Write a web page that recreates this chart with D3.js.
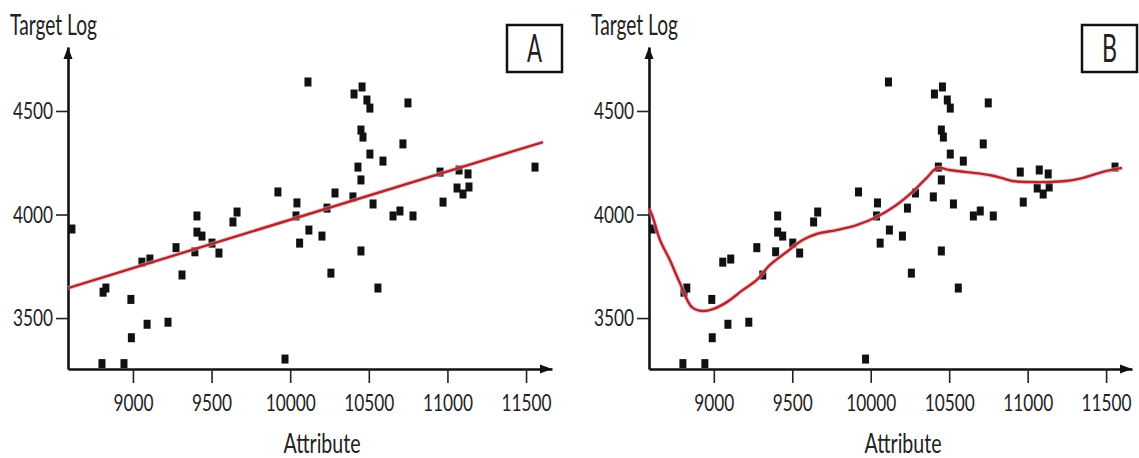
<!DOCTYPE html>
<html>
<head>
<meta charset="utf-8">
<script src="https://cdn.jsdelivr.net/npm/d3@7"></script>
<style>
  body { margin: 0; background: #fff; }
  svg { display: block; }
  text { font-family: Lato, "Open Sans", sans-serif; fill: #222; }
</style>
</head>
<body>
<svg id="chart" width="1139" height="458"></svg>
<script>
const xTicks = [9000, 9500, 10000, 10500, 11000, 11500];
const yTicks = [3500, 4000, 4500];

// scatter, same in both panels
const attribute = [8612, 8803, 8810, 8828, 8943, 8987, 8990, 9057, 9090, 9108,
  9223, 9274, 9312, 9394, 9407, 9407, 9439, 9503, 9547, 9636,
  9662, 9922, 9967, 10037, 10043, 10060, 10113, 10119, 10202, 10234,
  10259, 10285, 10399, 10406, 10431, 10450, 10450, 10450, 10457, 10463,
  10488, 10507, 10507, 10527, 10558, 10590, 10654, 10698, 10717, 10749,
  10781, 10953, 10972, 11061, 11074, 11099, 11131, 11137, 11557];
const targetLog = [3930, 3280, 3625, 3645, 3280, 3590, 3405, 3770, 3470, 3785,
  3480, 3840, 3708, 3820, 3993, 3915, 3896, 3862, 3814, 3964,
  4012, 4109, 3302, 3993, 4056, 3862, 4640, 3925, 3896, 4031,
  3717, 4104, 4085, 4582, 4229, 3824, 4167, 4408, 4616, 4374,
  4553, 4514, 4292, 4051, 3645, 4258, 3993, 4017, 4341, 4539,
  3993, 4205, 4060, 4128, 4215, 4099, 4196, 4133, 4229];

// A: straight fit
const fitX = [8587, 11608];
const fitY = [3645, 4350];

// B: smooth fit
const smoothX = [8587, 8610, 8657, 8720, 8784, 8860, 8930, 8994, 9083, 9184,
  9274, 9356, 9464, 9566, 9655, 9782, 9910, 10037, 10164, 10266,
  10355, 10425, 10501, 10609, 10756, 10838, 10902, 11010, 11137, 11245,
  11347, 11474, 11602];
const smoothY = [4030, 3990, 3877, 3780, 3669, 3553, 3534, 3543, 3577, 3635,
  3684, 3756, 3819, 3877, 3906, 3925, 3949, 3988, 4046, 4109,
  4176, 4225, 4215, 4205, 4191, 4176, 4162, 4157, 4157, 4162,
  4176, 4205, 4225];

const points = attribute.map((a, i) => ({x: a, y: targetLog[i]}));
const fitLine = fitX.map((x, i) => ({x, y: fitY[i]}));
const smoothLine = smoothX.map((x, i) => ({x, y: smoothY[i]}));

const panels = [
  {name: "A", left: 68, right: 552, box: 507, line: fitLine, curve: d3.curveLinear},
  {name: "B", left: 649, right: 1132, box: 1082, line: smoothLine, curve: d3.curveCatmullRom}
];

const yTop = 47, yBottom = 369;
const svg = d3.select("#chart");

const yScale = d3.scaleLinear([3254, 4809], [yBottom, yTop]);

panels.forEach(p => {
  const xScale = d3.scaleLinear([8587, 11665], [p.left, p.right]);
  const g = svg.append("g");

  const xAxis = d3.axisBottom(xScale).tickValues(xTicks)
    .tickFormat(d3.format("d")).tickSize(14).tickSizeOuter(0).tickPadding(11);
  const yAxis = d3.axisLeft(yScale).tickValues(yTicks)
    .tickFormat(d3.format("d")).tickSize(12).tickSizeOuter(0).tickPadding(3);

  const gx = g.append("g").attr("transform", `translate(0,${yBottom})`).call(xAxis);
  const gy = g.append("g").attr("transform", `translate(${p.left},0)`).call(yAxis);

  [gx, gy].forEach(ax => {
    ax.select(".domain").attr("stroke", "#111").attr("stroke-width", 2.6);
    ax.selectAll(".tick line").attr("stroke", "#222").attr("stroke-width", 1.6);
    ax.selectAll(".tick text")
      .attr("font-size", "24px")
      .attr("fill", "#222")
      .attr("textLength", d => String(d).length * 10)
      .attr("lengthAdjust", "spacingAndGlyphs");
  });

  // arrow heads
  g.append("path")
    .attr("d", `M${p.left},${yTop} L${p.left - 4.5},${yTop + 12} L${p.left + 4.5},${yTop + 12} Z`)
    .attr("fill", "#111");
  g.append("path")
    .attr("d", `M${p.right},${yBottom} L${p.right - 12},${yBottom - 4.5} L${p.right - 12},${yBottom + 4.5} Z`)
    .attr("fill", "#111");

  g.selectAll("rect.pt")
    .data(points)
    .enter()
    .append("rect")
    .attr("class", "pt")
    .attr("x", d => xScale(d.x) - 3.5)
    .attr("y", d => yScale(d.y) - 4.5)
    .attr("width", 7)
    .attr("height", 9)
    .attr("fill", "#111");

  const lineMaker = d3.line()
    .x(d => xScale(d.x))
    .y(d => yScale(d.y))
    .curve(p.curve);

  g.append("path")
    .datum(p.line)
    .attr("d", lineMaker)
    .attr("fill", "none")
    .attr("stroke", "#e9a9b0")
    .attr("stroke-width", 4.5)
    .attr("opacity", 0.6);
  g.append("path")
    .datum(p.line)
    .attr("d", lineMaker)
    .attr("fill", "none")
    .attr("stroke", "#b3262d")
    .attr("stroke-width", 2.4);

  g.append("text")
    .attr("x", p.left - 58)
    .attr("y", 35)
    .attr("font-size", "28px")
    .attr("textLength", 87)
    .attr("lengthAdjust", "spacingAndGlyphs")
    .text("Target Log");

  g.append("text")
    .attr("x", p.left + 254)
    .attr("y", 453)
    .attr("text-anchor", "middle")
    .attr("font-size", "26px")
    .attr("textLength", 77)
    .attr("lengthAdjust", "spacingAndGlyphs")
    .text("Attribute");

  g.append("rect")
    .attr("x", p.box)
    .attr("y", 25)
    .attr("width", 55)
    .attr("height", 47)
    .attr("fill", "none")
    .attr("stroke", "#111")
    .attr("stroke-width", 2.5);

  g.append("text")
    .attr("x", p.box + 27.5)
    .attr("y", 62)
    .attr("text-anchor", "middle")
    .attr("font-size", "38px")
    .attr("textLength", 15)
    .attr("lengthAdjust", "spacingAndGlyphs")
    .text(p.name);
});
</script>
</body>
</html>
